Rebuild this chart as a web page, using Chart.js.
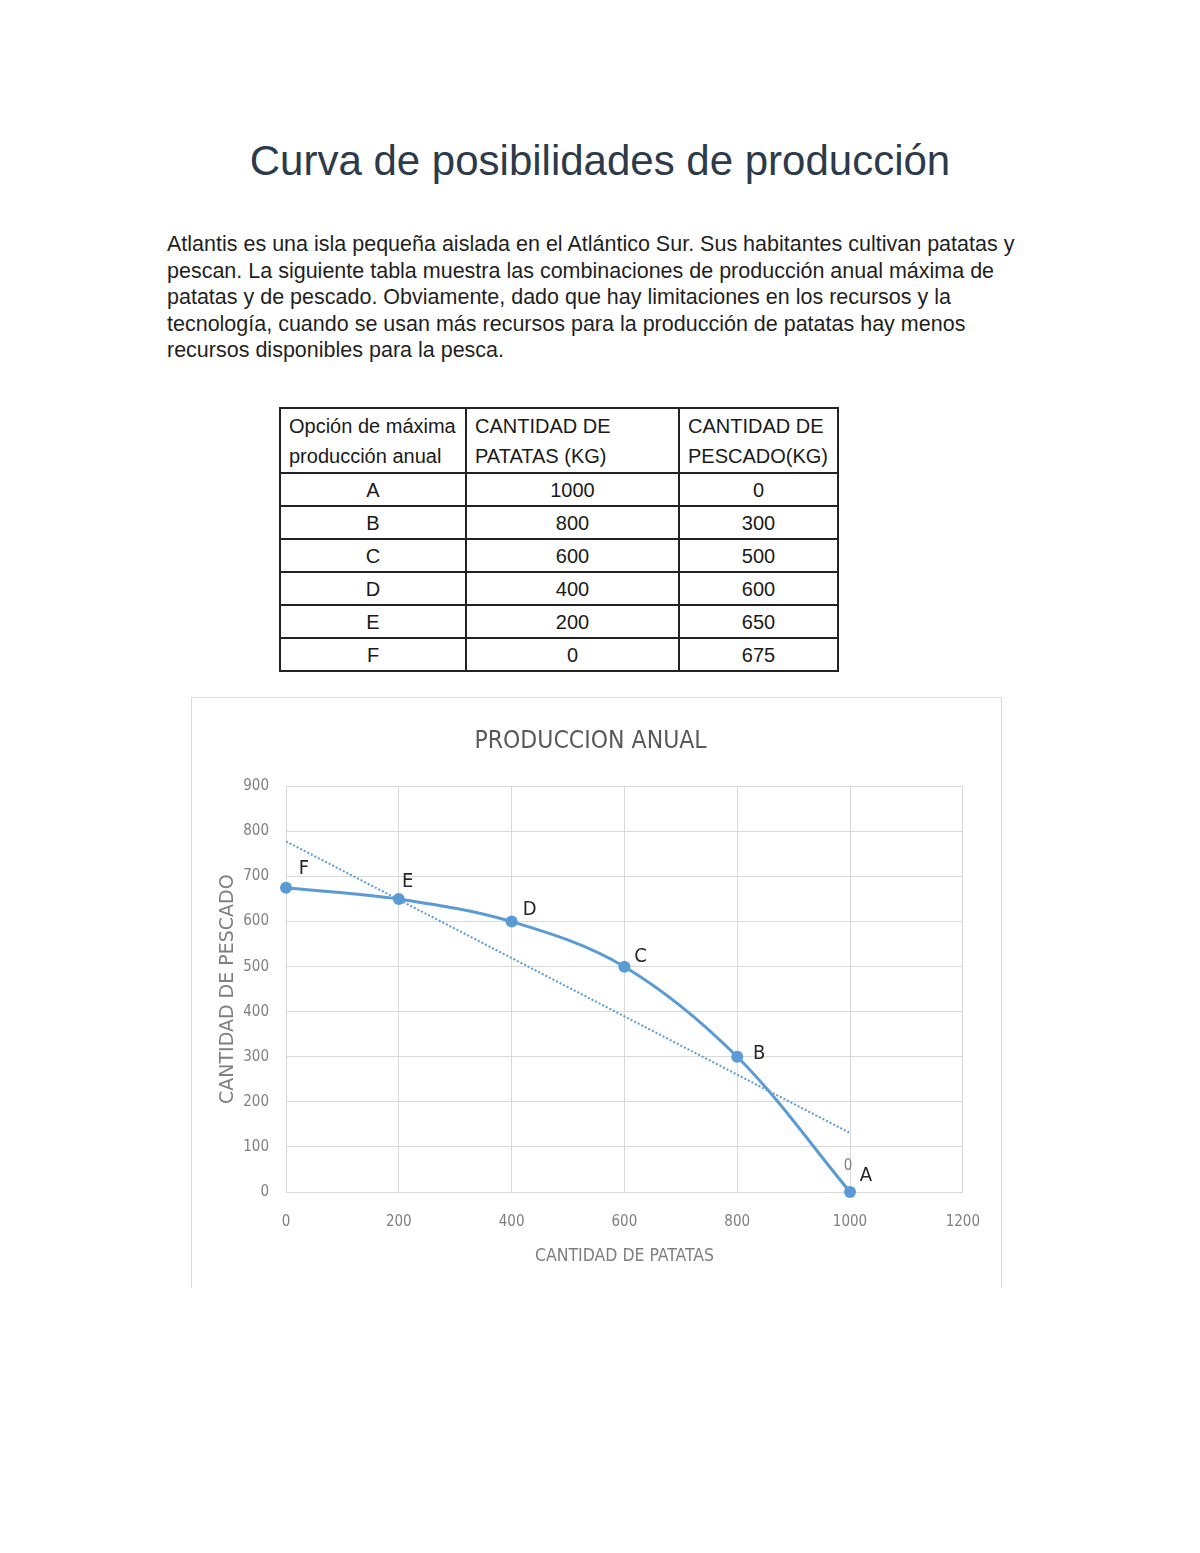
<!DOCTYPE html>
<html lang="es">
<head>
<meta charset="utf-8">
<title>Curva de posibilidades de producción</title>
<script src="https://cdn.jsdelivr.net/npm/chart.js@4.4.1/dist/chart.umd.min.js"></script>
<style>
    html, body { margin: 0; padding: 0; background: #fff; }
    body { width: 1200px; height: 1553px; position: relative; overflow: hidden; }
    h1 {
        position: absolute; left: 0; width: 1200px; top: 137px; margin: 0;
        text-align: center; font: 400 42px "Liberation Sans", Arial, sans-serif; color: #2c3a4b;
    }
    .texto {
        position: absolute; left: 167px; top: 231px; margin: 0;
        font: 400 21.5px/26.5px "Liberation Sans", Arial, sans-serif; color: #1f1f1f;
    }
    .texto span { display: block; white-space: nowrap; }
    table {
        position: absolute; left: 279px; top: 407px; border-collapse: collapse; table-layout: fixed;
        font: 400 20px/30px "Liberation Sans", Arial, sans-serif; color: #1a1a1a;
    }
    td, th { border: 2px solid #222; padding: 0 8px; height: 31px; white-space: nowrap; overflow: hidden; }
    th { font-weight: 400; text-align: left; height: 63px; vertical-align: middle; }
    td { text-align: center; }
    .grafico {
        position: absolute; left: 191px; top: 697px; width: 809px; height: 590px;
        border: 1px solid #d9d9d9; border-bottom: none; background: #fff;
    }
</style>
</head>
<body>

<h1>Curva de posibilidades de producción</h1>

<p class="texto">
    <span>Atlantis es una isla pequeña aislada en el Atlántico Sur. Sus habitantes cultivan patatas y</span>
    <span>pescan. La siguiente tabla muestra las combinaciones de producción anual máxima de</span>
    <span>patatas y de pescado. Obviamente, dado que hay limitaciones en los recursos y la</span>
    <span>tecnología, cuando se usan más recursos para la producción de patatas hay menos</span>
    <span>recursos disponibles para la pesca.</span>
</p>

<table id="tabla">
    <colgroup><col style="width:186px"><col style="width:213px"><col style="width:159px"></colgroup>
    <tr>
        <th>Opción de máxima<br>producción anual</th>
        <th>CANTIDAD DE<br>PATATAS (KG)</th>
        <th>CANTIDAD DE<br>PESCADO(KG)</th>
    </tr>
</table>

<div class="grafico"><canvas id="ppfChart"></canvas></div>

<script>
// datos de la tabla / curva
const opciones = ['A', 'B', 'C', 'D', 'E', 'F'];
const patatas = [1000, 800, 600, 400, 200, 0];
const pescado = [0, 300, 500, 600, 650, 675];

// línea de tendencia (punteada), extremos
const tendenciaX = [0, 1000];
const tendenciaY = [778, 131];

// ejes
const ejeX = { min: 0, max: 1200, paso: 200 };
const ejeY = { min: 0, max: 900, paso: 100 };

const AZUL = '#5b9bd5';
const GRIS = '#7f7f7f';
const FUENTE = '"DejaVu Sans Condensed", "Liberation Sans", sans-serif';

// rellenar la tabla
const tabla = document.getElementById('tabla');
opciones.forEach((op, i) => {
    const tr = document.createElement('tr');
    tr.innerHTML = `<td>${op}</td><td>${patatas[i]}</td><td>${pescado[i]}</td>`;
    tabla.appendChild(tr);
});

// desplazamiento de las etiquetas de cada punto (A..F)
const desplazamientos = [[16, -16], [22, -3], [16, -10], [18, -12], [9, -17], [18, -19]];

const etiquetasPlugin = {
    id: 'etiquetas',
    afterDatasetsDraw(chart) {
        const ctx = chart.ctx;
        const meta = chart.getDatasetMeta(0);
        ctx.save();
        ctx.textAlign = 'center';
        ctx.textBaseline = 'middle';
        meta.data.forEach((pt, i) => {
            const [dx, dy] = desplazamientos[i];
            ctx.fillStyle = '#262626';
            ctx.font = '20px ' + FUENTE;
            ctx.fillText(opciones[i], pt.x + dx, pt.y + dy);
            // el valor 0 que aparece junto al punto A
            if (pescado[i] === 0) {
                ctx.fillStyle = GRIS;
                ctx.font = '15px ' + FUENTE;
                ctx.fillText(String(pescado[i]), pt.x - 2, pt.y - 26);
            }
        });
        ctx.restore();
    }
};

const ctx = document.getElementById('ppfChart').getContext('2d');
new Chart(ctx, {
    type: 'scatter',
    data: {
        datasets: [
            {
                label: 'Producción',
                data: patatas.map((x, i) => ({ x, y: pescado[i] })),
                showLine: true,
                clip: false,
                borderColor: AZUL,
                backgroundColor: AZUL,
                borderWidth: 3,
                pointRadius: 6,
                pointBorderWidth: 0,
                tension: 0.35
            },
            {
                label: 'Tendencia',
                data: tendenciaX.map((x, i) => ({ x, y: tendenciaY[i] })),
                showLine: true,
                borderColor: AZUL,
                borderWidth: 2,
                borderDash: [2, 2],
                pointRadius: 0
            }
        ]
    },
    options: {
        responsive: true,
        maintainAspectRatio: false,
        animation: false,
        layout: { padding: { left: 21, right: 33, top: 0, bottom: 0 } },
        plugins: {
            legend: { display: false },
            tooltip: { enabled: false },
            title: {
                display: true,
                text: 'PRODUCCION ANUAL',
                color: '#595959',
                font: { family: FUENTE, size: 24.5, weight: 'normal' },
                padding: { top: 29, bottom: 30 }
            }
        },
        scales: {
            x: {
                type: 'linear',
                min: ejeX.min, max: ejeX.max,
                afterFit: s => { s.height = 96; },
                ticks: {
                    stepSize: ejeX.paso, color: GRIS, padding: 21,
                    font: { family: FUENTE, size: 15 },
                    callback: v => String(v)
                },
                grid: { color: '#d9d9d9', drawTicks: false },
                border: { color: '#d9d9d9' },
                title: {
                    display: true, text: 'CANTIDAD DE PATATAS', color: GRIS,
                    font: { family: FUENTE, size: 17.5 }, padding: { top: 0, bottom: 21 }
                }
            },
            y: {
                min: ejeY.min, max: ejeY.max,
                afterFit: s => { s.width = 73; },
                ticks: {
                    stepSize: ejeY.paso, color: GRIS, padding: 17,
                    font: { family: FUENTE, size: 15 },
                    callback: v => String(v)
                },
                grid: { color: '#d9d9d9', drawTicks: false },
                border: { display: false },
                title: {
                    display: true, text: 'CANTIDAD DE PESCADO', color: GRIS,
                    font: { family: '"DejaVu Sans", sans-serif', size: 19 }, padding: { top: 4, bottom: 0 }
                }
            }
        }
    },
    plugins: [etiquetasPlugin]
});
</script>
</body>
</html>
